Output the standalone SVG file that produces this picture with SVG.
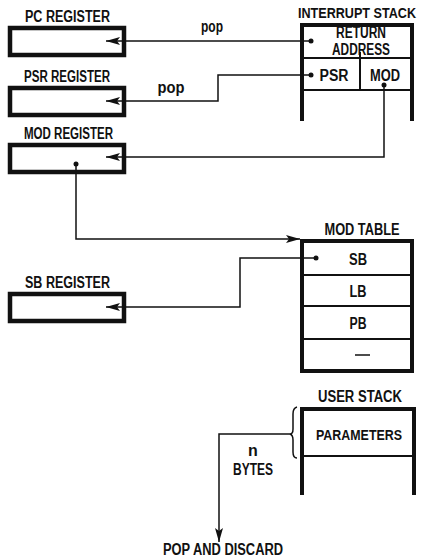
<svg xmlns="http://www.w3.org/2000/svg" width="424" height="560" viewBox="0 0 424 560">
<defs>
<style>
text{font-family:"Liberation Sans Narrow","Liberation Sans",Arial,sans-serif;font-weight:bold;font-size:16px;fill:#111}
.reg{fill:none;stroke:#111;stroke-width:4.5}
.thick{fill:none;stroke:#111;stroke-width:4;stroke-linecap:square}
.thin{fill:none;stroke:#111;stroke-width:2}
.conn{fill:none;stroke:#111;stroke-width:1.5}
.dot{fill:#111}
</style>
<marker id="ah" viewBox="0 0 14 8" refX="14" refY="4" markerWidth="14" markerHeight="8" markerUnits="userSpaceOnUse" orient="auto">
<path d="M0,0 L14,4 L0,8 L3,4 z" fill="#111"/>
</marker>
</defs>
<rect width="424" height="560" fill="#fff"/>

<g id="pc-register">
<text x="25" y="22" textLength="85" lengthAdjust="spacingAndGlyphs">PC REGISTER</text>
<rect class="reg" x="10" y="28" width="114" height="27"/>
</g>
<g id="psr-register">
<text x="24" y="82" textLength="86" lengthAdjust="spacingAndGlyphs">PSR REGISTER</text>
<rect class="reg" x="10" y="88" width="114" height="27"/>
</g>
<g id="mod-register">
<text x="24" y="139" textLength="89" lengthAdjust="spacingAndGlyphs">MOD REGISTER</text>
<rect class="reg" x="10" y="145" width="114" height="27"/>
<circle class="dot" cx="76" cy="164" r="2.5"/>
</g>
<g id="sb-register">
<text x="25" y="288" textLength="85" lengthAdjust="spacingAndGlyphs">SB REGISTER</text>
<rect class="reg" x="10" y="294" width="114" height="27"/>
</g>

<g id="interrupt-stack">
<text x="298" y="18" textLength="118" lengthAdjust="spacingAndGlyphs" style="font-size:15px">INTERRUPT STACK</text>
<path class="thick" d="M302,119 V25 H412 V119"/>
<path class="thin" d="M302,58 H412 M302,90 H412 M360,52 V90"/>
<text x="361" y="38" text-anchor="middle" textLength="50" lengthAdjust="spacingAndGlyphs">RETURN</text>
<text x="361" y="55" text-anchor="middle" textLength="58" lengthAdjust="spacingAndGlyphs">ADDRESS</text>
<text x="334" y="81" text-anchor="middle" textLength="29" lengthAdjust="spacingAndGlyphs">PSR</text>
<text x="385" y="81" text-anchor="middle" textLength="30" lengthAdjust="spacingAndGlyphs">MOD</text>
<circle class="dot" cx="311" cy="41" r="2.5"/>
<circle class="dot" cx="311" cy="75" r="2.5"/>
<circle class="dot" cx="384" cy="85" r="2.5"/>
</g>

<g id="mod-table">
<text x="362" y="235" text-anchor="middle" textLength="75" lengthAdjust="spacingAndGlyphs">MOD TABLE</text>
<rect class="thick" x="302" y="241" width="110" height="130"/>
<path class="thin" d="M302,275 H412 M302,306 H412 M302,339 H412"/>
<text x="358" y="265" text-anchor="middle" textLength="18" lengthAdjust="spacingAndGlyphs">SB</text>
<text x="358" y="297" text-anchor="middle" textLength="17" lengthAdjust="spacingAndGlyphs">LB</text>
<text x="358" y="329" text-anchor="middle" textLength="17" lengthAdjust="spacingAndGlyphs">PB</text>
<path d="M355,355 H370" stroke="#111" stroke-width="1.5"/>
<circle class="dot" cx="316" cy="258" r="2.5"/>
</g>

<g id="user-stack">
<text x="360" y="402" text-anchor="middle" textLength="84" lengthAdjust="spacingAndGlyphs">USER STACK</text>
<path class="thick" d="M302,493 V409 H414 V493"/>
<path class="thin" d="M302,456 H414"/>
<text x="359" y="440" text-anchor="middle" textLength="86" lengthAdjust="spacingAndGlyphs" style="font-size:15px">PARAMETERS</text>
<path class="conn" d="M297,407 Q293,408 293,414 V429 Q293,434 290,434 Q293,435 293,440 V452 Q293,458 297,458"/>
</g>

<g id="pop-and-discard">
<text x="223" y="555" text-anchor="middle" textLength="120" lengthAdjust="spacingAndGlyphs">POP AND DISCARD</text>
</g>

<g id="connectors">
<path class="conn" d="M311,41 H106" marker-end="url(#ah)"/>
<text x="212" y="32" text-anchor="middle" textLength="22" lengthAdjust="spacingAndGlyphs">pop</text>
<path class="conn" d="M311,75 H218 V101 H106" marker-end="url(#ah)"/>
<text x="171" y="93" text-anchor="middle" textLength="27" lengthAdjust="spacingAndGlyphs">pop</text>
<path class="conn" d="M384,85 V157 H106" marker-end="url(#ah)"/>
<path class="conn" d="M76,164 V239 H300" marker-end="url(#ah)"/>
<path class="conn" d="M316,258 H240 V307 H106" marker-end="url(#ah)"/>
<path class="conn" d="M290,434 H219 V542" marker-end="url(#ah)"/>
<text x="253" y="456" text-anchor="middle">n</text>
<text x="253" y="475" text-anchor="middle" textLength="40" lengthAdjust="spacingAndGlyphs">BYTES</text>
</g>
</svg>
